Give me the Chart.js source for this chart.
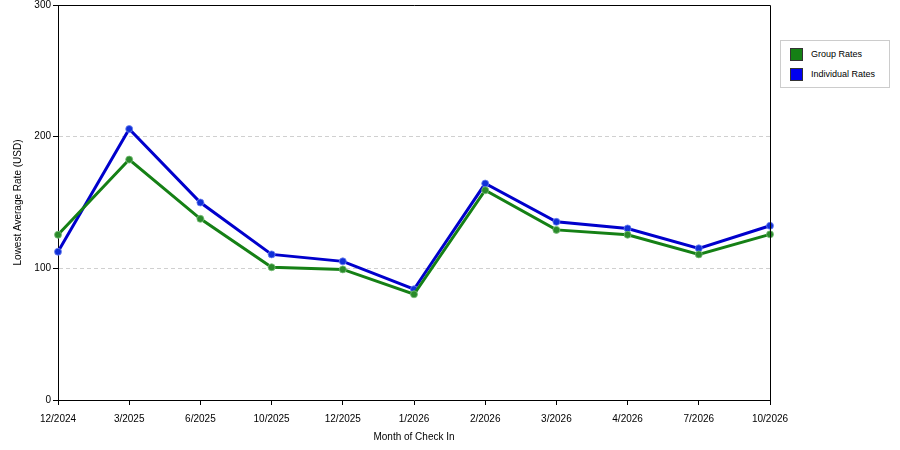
<!DOCTYPE html>
<html>
<head>
<meta charset="utf-8">
<script src="https://cdn.jsdelivr.net/npm/chart.js@4/dist/chart.umd.min.js"></script>
<style>
  html, body { margin: 0; padding: 0; background: #fff; }
  #wrap { position: relative; width: 900px; height: 450px; }
  #legend {
    position: absolute; left: 780px; top: 40px; width: 108px; height: 46px;
    border: 1px solid #ccc; background: #fff;
    font-family: "Liberation Sans", Arial, sans-serif; font-size: 9px; color: #000;
  }
  .item { position: absolute; left: 9px; height: 12px; line-height: 12px; }
  .sw { display: inline-block; width: 11px; height: 11px; vertical-align: top; border: 1px solid #333; margin-right: 8px; }
</style>
</head>
<body>
<div id="wrap">
  <canvas id="myChart" width="900" height="450"></canvas>
  <div id="legend">
    <div class="item" style="top:7px"><span class="sw" style="background:#158015"></span>Group Rates</div>
    <div class="item" style="top:27px"><span class="sw" style="background:#0000f0"></span>Individual Rates</div>
  </div>
</div>
<script>
const months = ['12/2024', '3/2025', '6/2025', '10/2025', '12/2025', '1/2026', '2/2026', '3/2026', '4/2026', '7/2026', '10/2026'];
const groupRates = [125.5, 182.6, 137.6, 100.8, 99.2, 80.3, 159.3, 129.2, 125.5, 110.6, 125.8];
const individualRates = [112.6, 205.8, 150.0, 110.6, 105.3, 84.1, 164.4, 135.3, 130.3, 115.2, 132.3];
const yTicks = [0, 100, 200, 300];

const frame = {
    id: 'frame',
    afterDatasetsDraw(chart) {
        const { ctx, chartArea: a } = chart;
        ctx.save();
        ctx.strokeStyle = '#000';
        ctx.lineWidth = 1;
        ctx.beginPath();
        ctx.moveTo(a.left, a.top + 0.5);
        ctx.lineTo(a.right + 0.5, a.top + 0.5);
        ctx.lineTo(a.right + 0.5, a.bottom);
        ctx.stroke();
        ctx.restore();
    }
};

Chart.defaults.font.family = '"Liberation Sans", Arial, sans-serif';
Chart.defaults.font.size = 10;
Chart.defaults.color = '#000';

const ctx = document.getElementById('myChart').getContext('2d');
const myChart = new Chart(ctx, {
    type: 'line',
    data: {
        labels: months,
        datasets: [{
            label: 'Group Rates',
            data: groupRates,
            borderColor: '#158015',
            backgroundColor: '#158015',
            pointBackgroundColor: '#2a8a2a',
            pointBorderColor: 'rgba(120,190,120,0.8)',
            borderWidth: 3,
            pointRadius: 3.5,
            pointBorderWidth: 1,
            tension: 0
        }, {
            label: 'Individual Rates',
            data: individualRates,
            borderColor: '#0000cc',
            backgroundColor: '#0000cc',
            pointBackgroundColor: '#1030d8',
            pointBorderColor: 'rgba(110,130,240,0.8)',
            borderWidth: 3,
            pointRadius: 3.5,
            pointBorderWidth: 1,
            tension: 0
        }]
    },
    options: {
        responsive: false,
        animation: false,
        layout: { padding: { top: 4, right: 130, left: 0, bottom: 0 } },
        plugins: {
            legend: { display: false },
            tooltip: { enabled: false }
        },
        scales: {
            x: {
                offset: false,
                afterFit: (s) => { s.height = 50; },
                grid: { drawOnChartArea: false, tickLength: 5, color: '#000' },
                border: { color: '#000' },
                ticks: { maxRotation: 0, autoSkip: false, padding: 8 },
                title: { display: true, text: 'Month of Check In', padding: { top: 0, bottom: 7 } }
            },
            y: {
                min: 0,
                max: 300,
                afterFit: (s) => { s.width = 58; s.paddingTop = 0; s.paddingBottom = 0; },
                afterBuildTicks: (s) => { s.ticks = yTicks.map(v => ({ value: v })); },
                grid: {
                    tickLength: 5,
                    color: (c) => (c.tick && (c.tick.value === 100 || c.tick.value === 200)) ? '#d0d0d0' : 'rgba(0,0,0,0)',
                    tickColor: '#000'
                },
                border: { color: '#000', dash: [4, 3] },
                ticks: { padding: 2 },
                title: { display: true, text: 'Lowest Average Rate (USD)', padding: { top: 12, bottom: 0 } }
            }
        }
    },
    plugins: [frame]
});
</script>
</body>
</html>
